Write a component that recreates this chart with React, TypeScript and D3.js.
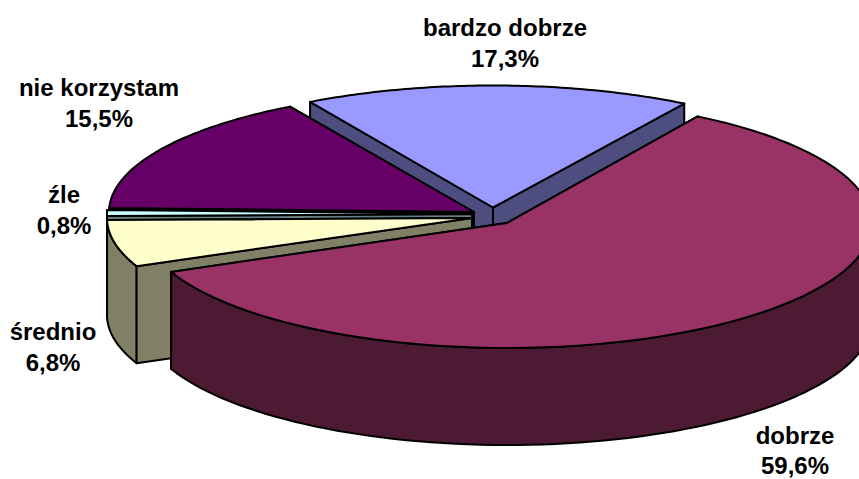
import React from "react";
import * as d3 from "d3";

const categories = ["dobrze", "średnio", "źle", "nie korzystam", "bardzo dobrze"];
const values = [59.6, 6.8, 0.8, 15.5, 17.3];
const valueLabels = ["59,6%", "6,8%", "0,8%", "15,5%", "17,3%"];
const topColors = ["#993366", "#ffffcc", "#ccffff", "#660066", "#9999ff"];
const wallColors = ["#4d1a33", "#808066", "#668080", "#330033", "#4d4d80"];
const apexX = [507, 472, 472, 474, 493];
const apexY = [223, 218, 214, 212, 207.5];
const radiusY = [125, 122, 122, 122, 122];
// the original's perspective pulls each edge a little off its true angle (degrees)
const startNudge = [1.5, 2.2, 0, 0, 2.2];
const endNudge = [2.4, 0, 0, 2, 1.6];
const labelX = [795, 53, 64, 99, 505];
const labelY = [444, 340, 203, 96, 36];
const labelGap = [30, 31, 31, 31, 31];
const paintOrder = [4, 3, 2, 1, 0];

const RX = 365;
const DEPTH = 97;
const START = (30 * Math.PI) / 180;
const rad = (d: number) => (d * Math.PI) / 180;

export default function App() {
  const arcs = d3
    .pie<number>()
    .sort(null)
    .startAngle(START)
    .endAngle(START + 2 * Math.PI)(values);
  const line = d3.line();
  const pt = (i: number, a: number, dy = 0): [number, number] => [
    apexX[i] + RX * Math.sin(a),
    apexY[i] - radiusY[i] * Math.cos(a) + dy,
  ];
  const rim = (i: number, a0: number, a1: number, dy = 0) =>
    d3.range(0, 81).map((k) => pt(i, a0 + ((a1 - a0) * k) / 80, dy));

  return (
    <svg
      width={859}
      height={479}
      style={{ position: "absolute", left: 0, top: 0, background: "#fff" }}
    >
      {paintOrder.map((i) => {
        const a0 = arcs[i].startAngle + rad(startNudge[i]);
        const a1 = arcs[i].endAngle + rad(endNudge[i]);
        const apex: [number, number] = [apexX[i], apexY[i]];
        const low: [number, number] = [apexX[i], apexY[i] + DEPTH];
        // only the front half of the rim shows a wall
        const w0 = Math.max(a0, Math.PI / 2);
        const w1 = Math.min(a1, (3 * Math.PI) / 2);
        const common = { stroke: "#000", strokeWidth: 2, strokeLinejoin: "round" as const };
        return (
          <g key={categories[i]}>
            <path
              d={line([apex, pt(i, a1), pt(i, a1, DEPTH), low])! + "Z"}
              fill={wallColors[i]}
              {...common}
            />
            {w1 > w0 && (
              <path
                d={line([...rim(i, w0, w1), ...rim(i, w1, w0, DEPTH)])! + "Z"}
                fill={wallColors[i]}
                {...common}
              />
            )}
            <path
              d={line([apex, pt(i, a0), pt(i, a0, DEPTH), low])! + "Z"}
              fill={wallColors[i]}
              {...common}
            />
            <path
              d={line([apex, ...rim(i, a0, a1)])! + "Z"}
              fill={topColors[i]}
              {...common}
            />
          </g>
        );
      })}
      {categories.map((c, i) => (
        <text
          key={c}
          textAnchor="middle"
          fontFamily="'Liberation Sans', Arial, sans-serif"
          fontWeight="bold"
          fontSize={24}
          fill="#000"
        >
          <tspan x={labelX[i]} y={labelY[i]}>
            {c}
          </tspan>
          <tspan x={labelX[i]} y={labelY[i] + labelGap[i]}>
            {valueLabels[i]}
          </tspan>
        </text>
      ))}
    </svg>
  );
}
